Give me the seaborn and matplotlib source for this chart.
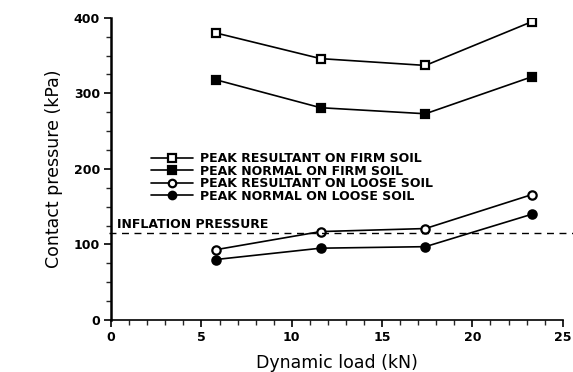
import pandas as pd
import matplotlib.pyplot as plt
import seaborn as sns
from matplotlib.ticker import MultipleLocator

# Data
load = [5.8, 11.6, 17.4, 23.3]
firm_resultant = [380, 346, 337, 395]
firm_normal = [318, 281, 273, 322]
loose_resultant = [93, 117, 121, 166]
loose_normal = [80, 95, 97, 140]
inflation_pressure = 115

labels = ["PEAK RESULTANT ON FIRM SOIL", "PEAK NORMAL ON FIRM SOIL",
          "PEAK RESULTANT ON LOOSE SOIL", "PEAK NORMAL ON LOOSE SOIL"]
series = [firm_resultant, firm_normal, loose_resultant, loose_normal]

sns.set_theme(style="ticks")
plt.rcParams['font.family'] = ['DejaVu Sans']
plt.rcParams['text.color'] = 'black'
plt.rcParams['axes.labelcolor'] = 'black'

fig = plt.figure(figsize=(5.73, 3.72), dpi=100)
ax = fig.add_axes([0.194, 0.140, 0.788, 0.812])

marker_styles = [
    dict(marker="s", markerfacecolor="white"),
    dict(marker="s", markerfacecolor="black"),
    dict(marker="o", markerfacecolor="white"),
    dict(marker="o", markerfacecolor="black"),
]

for vals, lab, ms in zip(series, labels, marker_styles):
    df = pd.DataFrame({"load": load, "pressure": vals})
    sns.lineplot(data=df, x="load", y="pressure", ax=ax, color="black",
                 linewidth=1.2, markersize=6, markeredgecolor="black",
                 markeredgewidth=1.6, label=lab, **ms)

ax.axhline(inflation_pressure, color="black", linestyle=(0, (5, 4)),
           linewidth=1.0, xmin=-0.005, xmax=1.03, clip_on=False)
ax.text(0.33, inflation_pressure + 3, "INFLATION PRESSURE", fontsize=9,
        fontweight="bold", ha="left", va="bottom")

ax.set_xlim(0, 25)
ax.set_ylim(0, 400)
ax.xaxis.set_major_locator(MultipleLocator(5))
ax.xaxis.set_minor_locator(MultipleLocator(1))
ax.yaxis.set_major_locator(MultipleLocator(100))
ax.yaxis.set_minor_locator(MultipleLocator(25))
ax.tick_params(axis="both", which="major", direction="out", length=5,
               width=1.2, labelsize=9, colors="black", pad=3)
ax.tick_params(axis="both", which="minor", direction="out", length=3.5,
               width=1.0)
for lbl in ax.get_xticklabels() + ax.get_yticklabels():
    lbl.set_fontweight("bold")

sns.despine(ax=ax)
ax.spines["left"].set_linewidth(1.8)
ax.spines["bottom"].set_linewidth(1.2)
ax.spines["left"].set_color("black")
ax.spines["bottom"].set_color("black")

ax.set_xlabel("Dynamic load (kN)", fontsize=12.5, labelpad=7)
ax.set_ylabel("Contact pressure (kPa)", fontsize=12.5, labelpad=8)

leg = ax.legend(loc="upper left", bbox_to_anchor=(0.075, 0.575), frameon=False,
                fontsize=9, handlelength=3.3, labelspacing=-0.05,
                borderpad=0, handletextpad=0.6, markerscale=0.9)
for t in leg.get_texts():
    t.set_fontweight("bold")

fig.savefig("out.png", dpi=100)
